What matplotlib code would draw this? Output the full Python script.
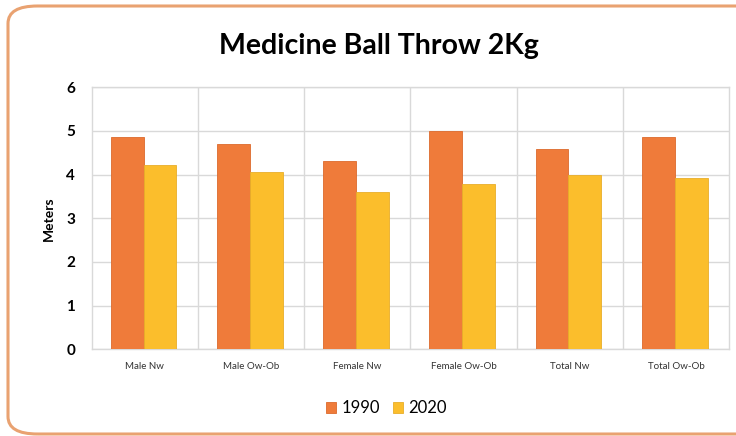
import numpy as np
import matplotlib.pyplot as plt
from matplotlib.patches import FancyBboxPatch

# Data
categories = ['Male Nw', 'Male Ow-Ob', 'Female Nw', 'Female Ow-Ob', 'Total Nw', 'Total Ow-Ob']
years = ['1990', '2020']
throw_1990 = [4.87, 4.69, 4.31, 5.01, 4.58, 4.87]
throw_2020 = [4.21, 4.07, 3.60, 3.78, 3.98, 3.93]
yticks = [0, 1, 2, 3, 4, 5, 6]

plt.rcParams['font.family'] = ['Lato', 'DejaVu Sans']

fig = plt.figure(figsize=(7.36, 4.36), dpi=100)

# Rounded orange frame around the whole chart
frame = FancyBboxPatch((8/736, 2/436), 760/736, 428/436,
                       boxstyle='round,pad=0,rounding_size=0.04',
                       transform=fig.transFigure, facecolor='none',
                       edgecolor='#E9A271', linewidth=2.2, zorder=5)
fig.patches.append(frame)

ax = fig.add_axes([0.1246, 0.1989, 0.866, 0.6009])
ax.set_facecolor('none')

x = np.arange(len(categories))
w = 0.31
ax.bar(x - w/2 - 0.012, throw_1990, w, color='#EF7B3A', edgecolor='#DC6A2C',
       linewidth=0.6, label=years[0], zorder=3)
ax.bar(x + w/2 - 0.012, throw_2020, w, color='#FBBE2C', edgecolor='#E8AE2A',
       linewidth=0.6, label=years[1], zorder=3)

ax.set_xlim(-0.5, len(categories) - 0.5)
ax.set_ylim(0, 6)
ax.set_yticks(yticks)
ax.set_yticklabels([str(t) for t in yticks], fontsize=11, fontweight='bold')
ax.set_xticks(x)
ax.set_xticklabels(categories, fontsize=7, color='#333333')
ax.set_xticks(np.arange(0.5, len(categories) - 0.5), minor=True)
ax.tick_params(axis='both', which='both', length=0)
ax.tick_params(axis='y', pad=12)
ax.tick_params(axis='x', pad=9)

ax.grid(axis='y', color='#D9D9D9', linewidth=1, zorder=0)
ax.grid(axis='x', which='minor', color='#D9D9D9', linewidth=1, zorder=0)
for s in ax.spines.values():
    s.set_color('#D9D9D9')
    s.set_linewidth(1)

ax.set_ylabel('Meters', fontsize=10, fontweight='bold', labelpad=8)

fig.text(0.515, 0.895, 'Medicine Ball Throw 2Kg', ha='center', va='center',
         fontsize=20.5, fontweight='bold')

fig.legend(loc='center', bbox_to_anchor=(0.525, 0.064), ncol=2, frameon=False,
           fontsize=12, handlelength=0.6, handleheight=0.6, handletextpad=0.3,
           columnspacing=0.8)

fig.savefig('out.png', dpi=100)
